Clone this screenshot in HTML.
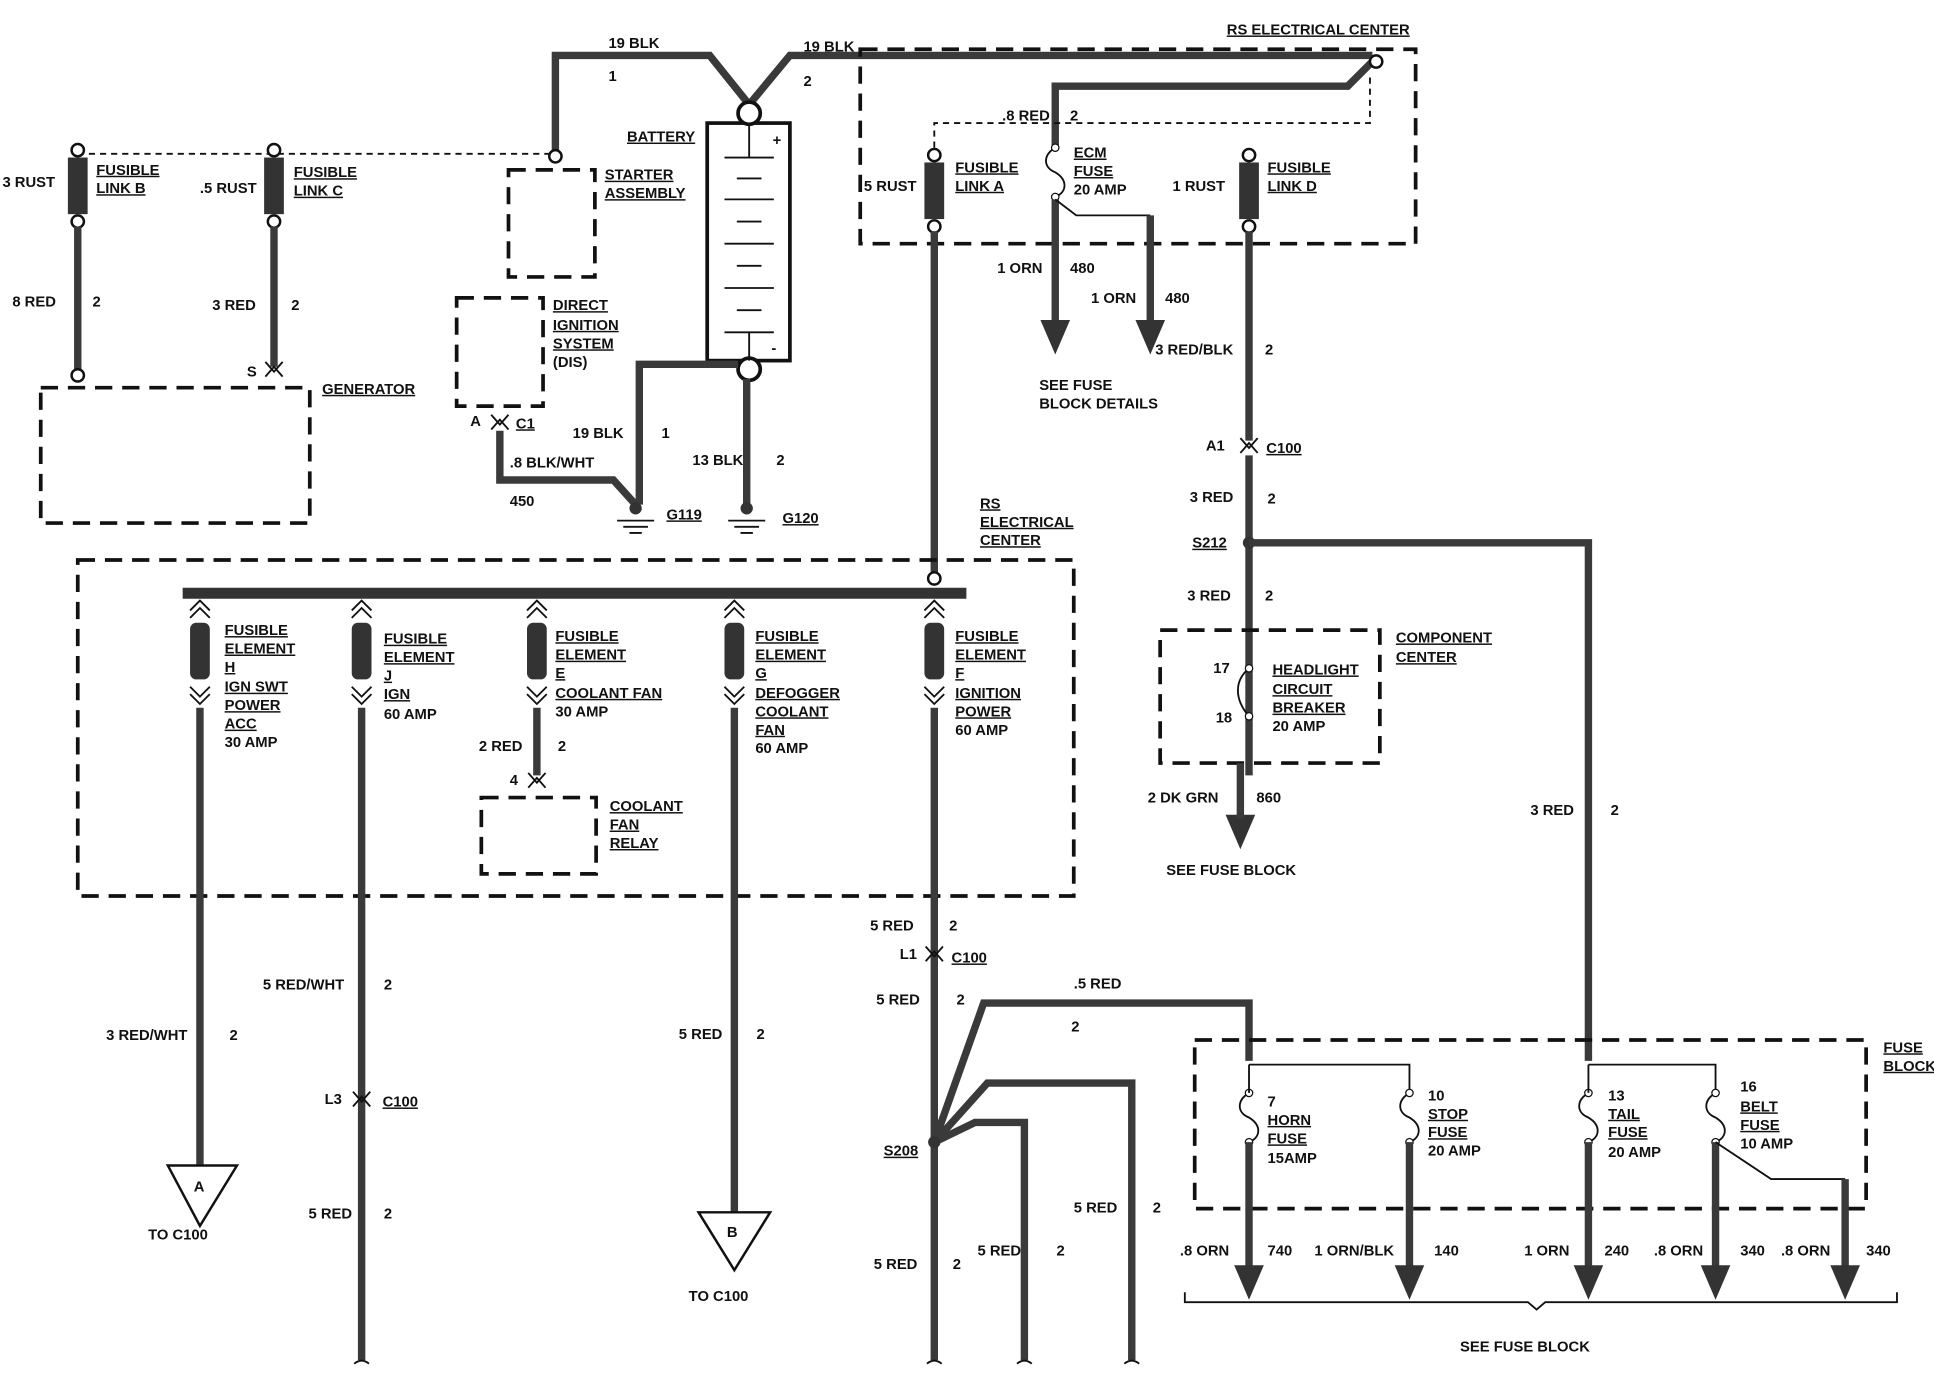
<!DOCTYPE html>
<html><head><meta charset="utf-8"><style>
html,body{margin:0;padding:0;background:#fff}
svg{display:block}
text{font-family:"Liberation Sans",sans-serif;font-weight:bold;font-size:12px;fill:#111}
.u{text-decoration:underline}
.w{stroke:#3a3a3a;stroke-width:6;fill:none}
.d{stroke:#111;stroke-width:3;fill:none;stroke-dasharray:14 8}
.t{stroke:#111;stroke-width:1.5;fill:none;stroke-dasharray:5 4}
.l{stroke:#111;stroke-width:1.5;fill:none}
</style></head><body>
<svg width="1934" height="1376" viewBox="0 0 1567 1118" preserveAspectRatio="none" xmlns="http://www.w3.org/2000/svg">
<defs>
<g id="fl"><rect x="-8" y="0" width="16" height="46" fill="#333"/><circle cx="0" cy="-6" r="5" fill="#fff" stroke="#111" stroke-width="2"/><circle cx="0" cy="52" r="5" fill="#fff" stroke="#111" stroke-width="2"/></g>
<g id="fe"><path d="M-8,0 L0,-8 L8,0" class="l" stroke-width="2.5"/><path d="M-8,6 L0,-2 L8,6" class="l" stroke-width="2.5"/><rect x="-8" y="10" width="16" height="46" rx="5" fill="#333"/><path d="M-8,62 L0,70 L8,62" class="l" stroke-width="2.5"/><path d="M-8,68 L0,76 L8,68" class="l" stroke-width="2.5"/></g>
<g id="ar"><path d="M-12,0 L12,0 L0,28 Z" fill="#333"/></g>
<g id="cn"><path d="M-7,-6 L0,2 L7,-6" class="l" stroke-width="2.5"/><path d="M-7,6 L0,-2 L7,6" class="l" stroke-width="2.5"/></g>
<g id="fu"><path d="M0,0 C-10,6 -10,16 0,20 C10,26 10,36 0,40" class="l" stroke-width="2"/><circle cx="0" cy="0" r="3" fill="#fff" stroke="#111"/><circle cx="0" cy="40" r="3" fill="#fff" stroke="#111"/></g>
</defs>
<!-- top battery cables -->
<path class="w" d="M450,125 V45 H575 L607,85 L640,45 H1112"/>
<path class="w" d="M1112,50 L1092,70 H855 V118"/>
<circle cx="1115" cy="50" r="5" fill="#fff" stroke="#111" stroke-width="2"/>
<circle cx="450" cy="127" r="5" fill="#fff" stroke="#111" stroke-width="2"/>
<path class="t" d="M63,125 H445"/>
<path class="t" d="M757,120 V100 H1110 V60"/>
<text x="493" y="39">19 BLK</text><text x="493" y="66">1</text>
<text x="651" y="42">19 BLK</text><text x="651" y="70">2</text>
<text x="994" y="28" class="u">RS ELECTRICAL CENTER</text>
<!-- fusible link B -->
<use href="#fl" x="63" y="128"/><path class="w" d="M63,184 V300"/><circle cx="63" cy="305" r="5" fill="#fff" stroke="#111" stroke-width="2"/>
<text x="2" y="152">3 RUST</text><text x="78" y="142" class="u">FUSIBLE</text><text x="78" y="157" class="u">LINK B</text>
<text x="10" y="249">8 RED</text><text x="75" y="249">2</text>
<!-- fusible link C -->
<use href="#fl" x="222" y="128"/><path class="w" d="M222,184 V298"/><use href="#cn" x="222" y="300"/>
<text x="162" y="157">.5 RUST</text><text x="238" y="144" class="u">FUSIBLE</text><text x="238" y="159" class="u">LINK C</text>
<text x="172" y="252">3 RED</text><text x="236" y="252">2</text><text x="200" y="306">S</text>
<rect class="d" x="33" y="315" width="218" height="110"/><text x="261" y="320" class="u">GENERATOR</text>
<!-- starter / DIS -->
<rect class="d" x="412" y="138" width="70" height="87"/><text x="490" y="146" class="u">STARTER</text><text x="490" y="161" class="u">ASSEMBLY</text>
<rect class="d" x="370" y="242" width="70" height="88"/>
<text x="448" y="252" class="u">DIRECT</text><text x="448" y="268" class="u">IGNITION</text><text x="448" y="283" class="u">SYSTEM</text><text x="448" y="298">(DIS)</text>
<use href="#cn" x="405" y="343"/><text x="381" y="346">A</text><text x="418" y="348" class="u">C1</text>
<path class="w" d="M405,350 V390 H497 L515,410"/><text x="413" y="380">.8 BLK/WHT</text><text x="413" y="411">450</text>
<!-- battery -->
<rect x="573" y="100" width="67" height="193" fill="#fff" stroke="#111" stroke-width="3"/>
<circle cx="607" cy="92" r="9" fill="#fff" stroke="#111" stroke-width="3"/>
<circle cx="607" cy="300" r="9" fill="#fff" stroke="#111" stroke-width="3"/>
<text x="508" y="115" class="u">BATTERY</text><text x="626" y="118">+</text><text x="625" y="287">-</text>
<g class="l" stroke-width="2"><path d="M587,128H627M597,145H617M587,162H627M597,180H617M587,198H627M597,216H617M587,234H627M597,252H617M587,270H627"/><path d="M607,100V128M607,270V293"/></g>
<path class="w" d="M598,296 H518 V410"/><path class="w" d="M605,308 V410"/>
<text x="464" y="356">19 BLK</text><text x="536" y="356">1</text>
<text x="561" y="378">13 BLK</text><text x="629" y="378">2</text>
<circle cx="515" cy="413" r="5" fill="#333"/><path class="l" d="M500,423H530M505,428H525M510,433H520" stroke-width="2"/>
<circle cx="605" cy="413" r="5" fill="#333"/><path class="l" d="M590,423H620M595,428H615M600,433H610" stroke-width="2"/>
<text x="540" y="422" class="u">G119</text><text x="634" y="425" class="u">G120</text>
<!-- RS electrical center box -->
<rect class="d" x="697" y="40" width="450" height="158"/>
<use href="#fl" x="757" y="132"/><path class="w" d="M757,188 V465"/><circle cx="757" cy="470" r="5" fill="#fff" stroke="#111" stroke-width="2"/>
<text x="700" y="155">5 RUST</text><text x="774" y="140" class="u">FUSIBLE</text><text x="774" y="155" class="u">LINK A</text>
<text x="812" y="98">.8 RED</text><text x="867" y="98">2</text>
<use href="#fu" x="855" y="120"/><text x="870" y="128" class="u">ECM</text><text x="870" y="143" class="u">FUSE</text><text x="870" y="158">20 AMP</text>
<path class="w" d="M855,162 V262"/><path class="l" d="M855,162 L872,175 H932" stroke-width="2"/><path class="w" d="M932,175 V262"/>
<use href="#ar" x="855" y="260"/><use href="#ar" x="932" y="260"/>
<text x="808" y="222">1 ORN</text><text x="867" y="222">480</text><text x="884" y="246">1 ORN</text><text x="944" y="246">480</text>
<text x="842" y="317">SEE FUSE</text><text x="842" y="332">BLOCK DETAILS</text>
<use href="#fl" x="1012" y="132"/><path class="w" d="M1012,188 V358"/><use href="#cn" x="1012" y="362"/>
<text x="950" y="155">1 RUST</text><text x="1027" y="140" class="u">FUSIBLE</text><text x="1027" y="155" class="u">LINK D</text>
<text x="936" y="288">3 RED/BLK</text><text x="1025" y="288">2</text>
<text x="977" y="366">A1</text><text x="1026" y="368" class="u">C100</text>
<path class="w" d="M1012,370 V630"/><text x="964" y="408">3 RED</text><text x="1027" y="409">2</text>
<circle cx="1012" cy="441" r="5" fill="#333"/><text x="966" y="445" class="u">S212</text>
<path class="w" d="M1012,441 H1287 V862"/>
<text x="962" y="488">3 RED</text><text x="1025" y="488">2</text>
<rect class="d" x="940" y="512" width="178" height="108"/>
<path class="l" d="M1012,543 C1000,553 1000,568 1012,582" stroke-width="2"/>
<circle cx="1012" cy="543" r="3" fill="#fff" stroke="#111"/><circle cx="1012" cy="582" r="3" fill="#fff" stroke="#111"/>
<text x="983" y="547">17</text><text x="985" y="587">18</text>
<text x="1031" y="548" class="u">HEADLIGHT</text><text x="1031" y="564" class="u">CIRCUIT</text><text x="1031" y="579" class="u">BREAKER</text><text x="1031" y="594">20 AMP</text>
<text x="1131" y="522" class="u">COMPONENT</text><text x="1131" y="538" class="u">CENTER</text>
<use href="#ar" x="1005" y="662"/><path class="w" d="M1005,620 V665"/>
<text x="930" y="652">2 DK GRN</text><text x="1018" y="652">860</text><text x="945" y="711">SEE FUSE BLOCK</text>
<text x="1240" y="662">3 RED</text><text x="1305" y="662">2</text>
<!-- second RS center -->
<text x="794" y="413" class="u">RS</text><text x="794" y="428" class="u">ELECTRICAL</text><text x="794" y="443" class="u">CENTER</text>
<rect class="d" x="63" y="455" width="807" height="273"/>
<path d="M148,482 H783" stroke="#333" stroke-width="9"/>
<use href="#fe" x="162" y="496"/><use href="#fe" x="293" y="496"/><use href="#fe" x="435" y="496"/><use href="#fe" x="595" y="496"/><use href="#fe" x="757" y="496"/>
<path class="w" d="M162,575 V950"/><path class="w" d="M293,575 V1105"/><path class="w" d="M435,575 V630"/><path class="w" d="M595,575 V990"/><path class="w" d="M757,575 V1105"/>
<g><text x="182" y="516" class="u">FUSIBLE</text><text x="182" y="531" class="u">ELEMENT</text><text x="182" y="546" class="u">H</text><text x="182" y="562" class="u">IGN SWT</text><text x="182" y="577" class="u">POWER</text><text x="182" y="592" class="u">ACC</text><text x="182" y="607">30 AMP</text></g>
<g><text x="311" y="523" class="u">FUSIBLE</text><text x="311" y="538" class="u">ELEMENT</text><text x="311" y="553" class="u">J</text><text x="311" y="568" class="u">IGN</text><text x="311" y="584">60 AMP</text></g>
<g><text x="450" y="521" class="u">FUSIBLE</text><text x="450" y="536" class="u">ELEMENT</text><text x="450" y="551" class="u">E</text><text x="450" y="567" class="u">COOLANT FAN</text><text x="450" y="582">30 AMP</text></g>
<g><text x="612" y="521" class="u">FUSIBLE</text><text x="612" y="536" class="u">ELEMENT</text><text x="612" y="551" class="u">G</text><text x="612" y="567" class="u">DEFOGGER</text><text x="612" y="582" class="u">COOLANT</text><text x="612" y="597" class="u">FAN</text><text x="612" y="612">60 AMP</text></g>
<g><text x="774" y="521" class="u">FUSIBLE</text><text x="774" y="536" class="u">ELEMENT</text><text x="774" y="551" class="u">F</text><text x="774" y="567" class="u">IGNITION</text><text x="774" y="582" class="u">POWER</text><text x="774" y="597">60 AMP</text></g>
<text x="388" y="610">2 RED</text><text x="452" y="610">2</text><use href="#cn" x="435" y="634"/><text x="413" y="638">4</text>
<rect class="d" x="390" y="648" width="93" height="62"/><text x="494" y="659" class="u">COOLANT</text><text x="494" y="674" class="u">FAN</text><text x="494" y="689" class="u">RELAY</text>
<!-- lower left -->
<path d="M136,947 H192 L162,996 Z" fill="#fff" stroke="#111" stroke-width="2"/><text x="157" y="968">A</text><text x="120" y="1007">TO C100</text>
<text x="86" y="845">3 RED/WHT</text><text x="186" y="845">2</text>
<text x="213" y="804">5 RED/WHT</text><text x="311" y="804">2</text>
<use href="#cn" x="293" y="893"/><text x="263" y="897">L3</text><text x="310" y="899" class="u">C100</text>
<text x="250" y="990">5 RED</text><text x="311" y="990">2</text>
<path d="M566,985 H624 L595,1032 Z" fill="#fff" stroke="#111" stroke-width="2"/><text x="589" y="1005">B</text><text x="558" y="1057">TO C100</text>
<text x="550" y="844">5 RED</text><text x="613" y="844">2</text>
<!-- S208 area -->
<text x="705" y="756">5 RED</text><text x="769" y="756">2</text>
<use href="#cn" x="757" y="775"/><text x="729" y="779">L1</text><text x="771" y="782" class="u">C100</text>
<text x="710" y="816">5 RED</text><text x="775" y="816">2</text>
<path class="w" d="M757,928 L797,815 H1012 V862"/>
<path class="w" d="M757,928 L800,880 H917 V1105"/>
<path class="w" d="M757,928 L790,912 H830 V1105"/>
<circle cx="757" cy="928" r="5" fill="#333"/><text x="716" y="939" class="u">S208</text>
<text x="870" y="803">.5 RED</text><text x="868" y="838">2</text>
<text x="870" y="985">5 RED</text><text x="934" y="985">2</text>
<text x="792" y="1020">5 RED</text><text x="856" y="1020">2</text>
<text x="708" y="1031">5 RED</text><text x="772" y="1031">2</text>
<!-- fuse block -->
<rect class="d" x="968" y="845" width="544" height="137"/>
<text x="1526" y="855" class="u">FUSE</text><text x="1526" y="870" class="u">BLOCK</text>
<path class="l" d="M1012,865 H1142 V885" stroke-width="2"/><path class="l" d="M1287,865 H1390 V885" stroke-width="2"/>
<use href="#fu" x="1012" y="888"/><use href="#fu" x="1142" y="888"/><use href="#fu" x="1287" y="888"/><use href="#fu" x="1390" y="888"/>
<path class="l" d="M1012,865V888M1287,865V888" stroke-width="2"/>
<path class="w" d="M1012,928 V1030"/><path class="w" d="M1142,928 V1030"/><path class="w" d="M1287,928 V1030"/><path class="w" d="M1390,928 V1030"/>
<path class="l" d="M1390,928 L1435,958 H1495" stroke-width="2"/><path class="w" d="M1495,958 V1030"/>
<use href="#ar" x="1012" y="1028"/><use href="#ar" x="1142" y="1028"/><use href="#ar" x="1287" y="1028"/><use href="#ar" x="1390" y="1028"/><use href="#ar" x="1495" y="1028"/>
<text x="1027" y="899">7</text><text x="1027" y="914" class="u">HORN</text><text x="1027" y="929" class="u">FUSE</text><text x="1027" y="945">15AMP</text>
<text x="1157" y="894">10</text><text x="1157" y="909" class="u">STOP</text><text x="1157" y="924" class="u">FUSE</text><text x="1157" y="939">20 AMP</text>
<text x="1303" y="894">13</text><text x="1303" y="909" class="u">TAIL</text><text x="1303" y="924" class="u">FUSE</text><text x="1303" y="940">20 AMP</text>
<text x="1410" y="887">16</text><text x="1410" y="903" class="u">BELT</text><text x="1410" y="918" class="u">FUSE</text><text x="1410" y="933">10 AMP</text>
<text x="956" y="1020">.8 ORN</text><text x="1027" y="1020">740</text><text x="1065" y="1020">1 ORN/BLK</text><text x="1162" y="1020">140</text>
<text x="1235" y="1020">1 ORN</text><text x="1300" y="1020">240</text><text x="1340" y="1020">.8 ORN</text><text x="1410" y="1020">340</text><text x="1443" y="1020">.8 ORN</text><text x="1512" y="1020">340</text>
<path class="l" d="M960,1050 V1058 H1238 L1245,1064 L1252,1058 H1537 V1050" stroke-width="2"/>
<text x="1183" y="1098">SEE FUSE BLOCK</text>
<!-- wire end squiggles -->
<g class="l" stroke-width="2"><path d="M287,1108 q6,-5 12,0"/><path d="M751,1108 q6,-5 12,0"/><path d="M824,1108 q6,-5 12,0"/><path d="M911,1108 q6,-5 12,0"/></g>
</svg>
</body></html>
